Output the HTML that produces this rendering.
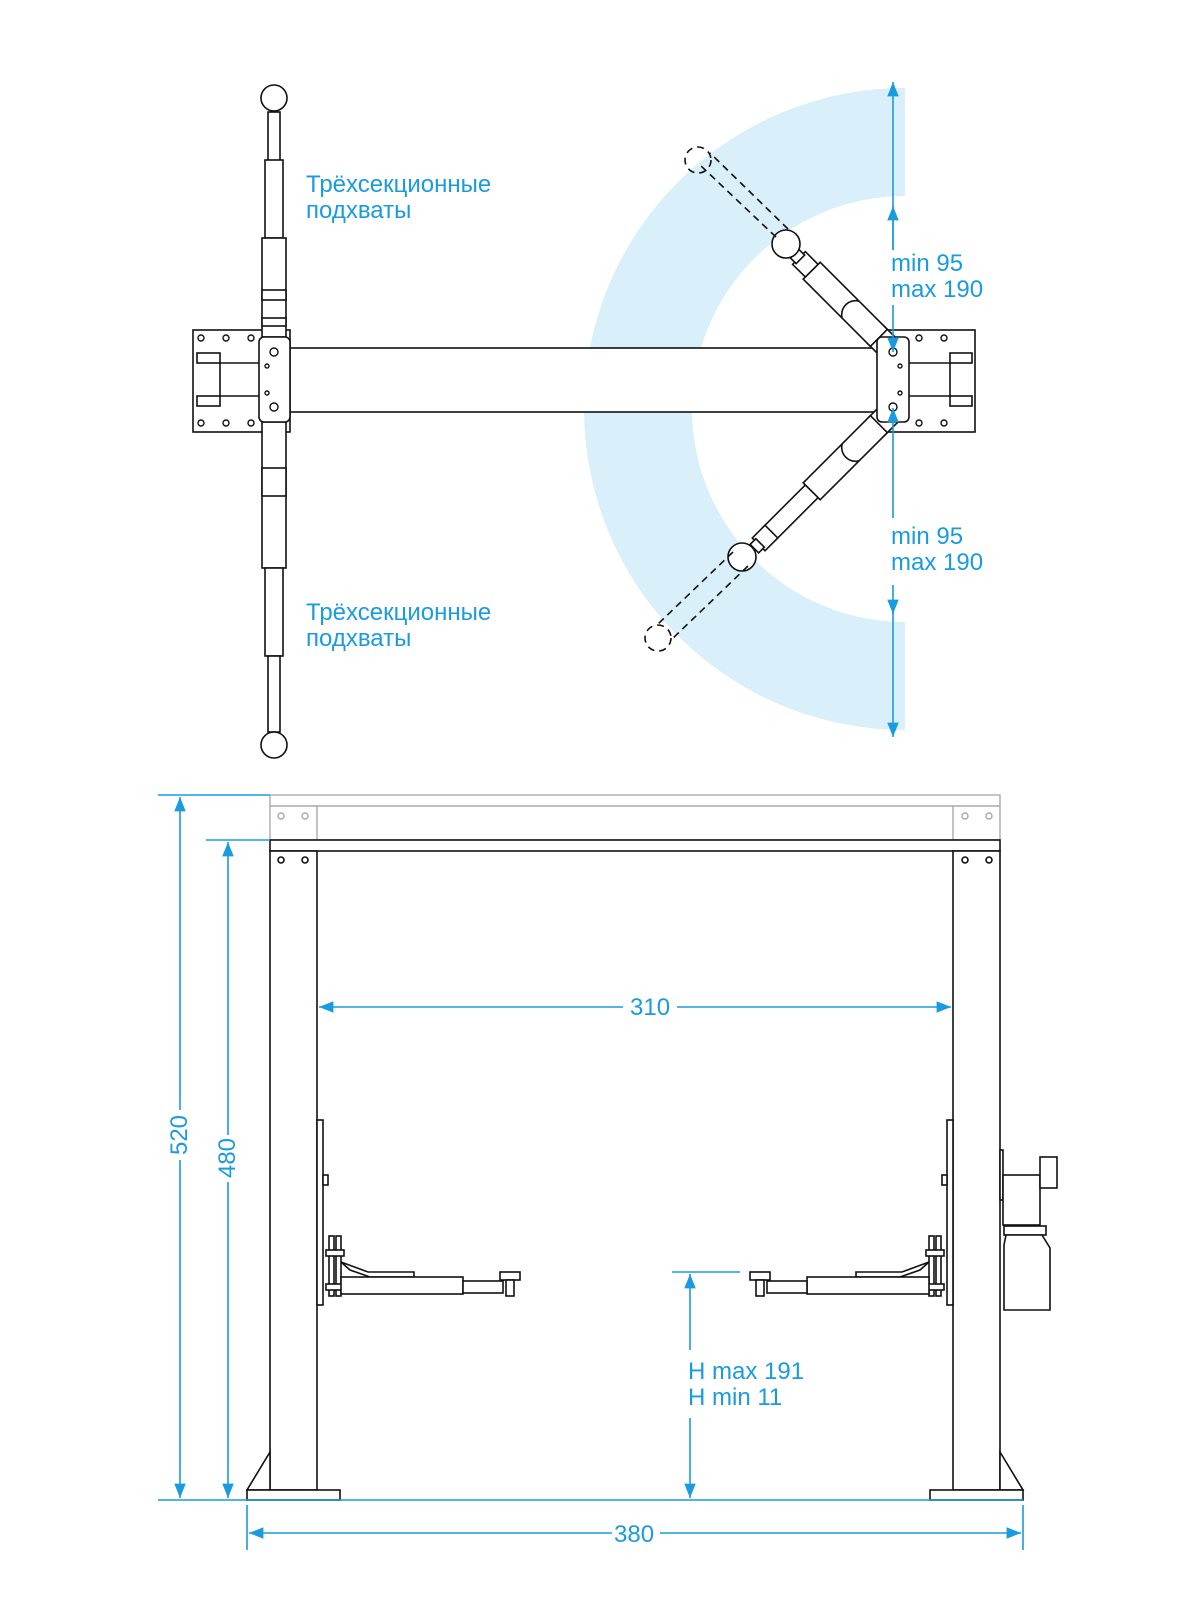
<!DOCTYPE html>
<html><head><meta charset="utf-8"><style>
body{margin:0;background:#fff;}
svg{display:block;}
text{font-family:"Liberation Sans",sans-serif;fill:#1a9be0;font-size:24px;}
</style></head><body>
<svg width="1200" height="1600" viewBox="0 0 1200 1600" xmlns="http://www.w3.org/2000/svg">
<defs>
<marker id="a" viewBox="0 0 10 10" refX="10" refY="5" markerWidth="9" markerHeight="9" orient="auto-start-reverse"><path d="M0,1 L10,5 L0,9 Z" fill="#1a9be0"/></marker>
</defs>
<path d="M905,88 A321,321 0 0 0 905,730 L905,622 A213,213 0 0 1 905,196 Z" fill="#d9eff9"/>
<g fill="#fff" stroke="#111" stroke-width="1.6">
<rect x="193" y="330" width="97" height="102"/>
<rect x="878" y="330" width="97" height="102"/>
<path d="M220,363 H259 M220,396 H259 M220,363 V396" fill="none"/>
<rect x="197" y="353" width="23" height="10"/><rect x="197" y="396" width="23" height="10"/>
<path d="M950,363 H909 M950,396 H909 M950,363 V396" fill="none"/>
<rect x="950" y="353" width="22" height="10"/><rect x="950" y="396" width="22" height="10"/>
<rect x="290" y="348" width="588" height="64"/>
<rect x="268" y="112" width="12" height="50"/>
<rect x="265" y="160" width="18" height="78"/>
<rect x="262" y="238" width="24" height="99"/>
<rect x="262" y="290" width="24" height="10"/><rect x="262" y="318" width="24" height="8"/>
<rect x="262" y="422" width="24" height="146"/>
<rect x="262" y="468" width="24" height="28"/>
<rect x="265" y="568" width="18" height="88"/>
<rect x="268" y="656" width="12" height="76"/>
<circle cx="274" cy="98" r="13"/><circle cx="274" cy="745" r="13"/>
<!-- right arms -->
<g transform="translate(893,352) rotate(225)">
<rect x="0" y="-12" width="25" height="24"/>
<rect x="20" y="-12" width="95" height="24"/>
<path d="M60,-12 A14,14 0 0 1 60,12" fill="none"/>
<rect x="115" y="-9" width="18" height="18"/>
<rect x="131" y="-6" width="8" height="12"/>
</g>
<g transform="translate(893,410) rotate(135)">
<rect x="0" y="-12" width="25" height="24"/>
<rect x="20" y="-12" width="95" height="24"/>
<path d="M60,-12 A14,14 0 0 1 60,12" fill="none"/>
<rect x="115" y="-9" width="60" height="18"/>
<rect x="172" y="-9" width="18" height="18"/>
<rect x="188" y="-6" width="8" height="12"/>
</g>
<circle cx="786" cy="244" r="14"/><circle cx="742" cy="557" r="14"/>
<rect x="259" y="337" width="31" height="85" rx="5"/>
<rect x="877" y="337" width="32" height="85" rx="5"/>
</g>
<g fill="none" stroke="#111" stroke-width="1.6" stroke-dasharray="7,5">
<line x1="776" y1="237" x2="700" y2="165"/><line x1="788" y1="229" x2="710" y2="153"/>
<line x1="733" y1="552" x2="657" y2="625"/><line x1="748" y1="566" x2="670" y2="641"/>
<circle cx="698" cy="160" r="13"/><circle cx="658" cy="638" r="13"/>
</g>
<g fill="#fff" stroke="#111" stroke-width="1.4">
<circle cx="201" cy="338" r="3"/><circle cx="226" cy="338" r="3"/><circle cx="251" cy="338" r="3"/>
<circle cx="201" cy="423" r="3"/><circle cx="226" cy="423" r="3"/><circle cx="251" cy="423" r="3"/>
<circle cx="919" cy="338" r="3"/><circle cx="944" cy="338" r="3"/><circle cx="919" cy="423" r="3"/><circle cx="944" cy="423" r="3"/>
<circle cx="274" cy="352" r="4"/><circle cx="274" cy="407" r="4"/><circle cx="267" cy="366" r="2"/><circle cx="267" cy="393" r="2"/>
<circle cx="893" cy="352" r="4"/><circle cx="893" cy="407" r="4"/><circle cx="900" cy="366" r="2"/><circle cx="900" cy="393" r="2"/>
</g>
<text x="306" y="192">Трёхсекционные</text><text x="306" y="218">подхваты</text>
<text x="306" y="620">Трёхсекционные</text><text x="306" y="646">подхваты</text>
<g stroke="#1a9be0" stroke-width="1.6" fill="none">
<line x1="893" y1="250" x2="893" y2="82" marker-end="url(#a)"/>
<line x1="893" y1="250" x2="893" y2="206" marker-end="url(#a)"/>
<line x1="893" y1="305" x2="893" y2="352" marker-end="url(#a)"/>
<line x1="893" y1="518" x2="893" y2="408" marker-end="url(#a)"/>
<line x1="893" y1="585" x2="893" y2="614" marker-end="url(#a)"/>
<line x1="893" y1="600" x2="893" y2="737" marker-end="url(#a)"/>
</g>
<text x="891" y="271">min 95</text><text x="891" y="297">max 190</text>
<text x="891" y="544">min 95</text><text x="891" y="570">max 190</text>

<g fill="none" stroke="#aaa" stroke-width="1.4">
<rect x="270" y="795" width="730" height="45"/>
<line x1="270" y1="806" x2="1000" y2="806"/>
<line x1="317" y1="806" x2="317" y2="840"/><line x1="953" y1="806" x2="953" y2="840"/>
<circle cx="281" cy="816" r="3"/><circle cx="305" cy="816" r="3"/><circle cx="965" cy="816" r="3"/><circle cx="989" cy="816" r="3"/>
</g>
<g fill="#fff" stroke="#111" stroke-width="1.6">
<rect x="270" y="840" width="730" height="11"/>
<rect x="270" y="851" width="47" height="639"/>
<rect x="953" y="851" width="47" height="639"/>
<path d="M270,1452 L247,1490 H270 Z M1000,1452 L1023,1490 H1000 Z"/>
<rect x="247" y="1490" width="93" height="10"/><rect x="930" y="1490" width="93" height="10"/>
<circle cx="281" cy="860" r="3"/><circle cx="305" cy="860" r="3"/><circle cx="965" cy="860" r="3"/><circle cx="989" cy="860" r="3"/>
<rect x="317" y="1120" width="6" height="185"/>
<rect x="323" y="1175" width="5" height="10"/>
<rect x="329" y="1236" width="5" height="60"/><rect x="336" y="1236" width="5" height="60"/>
<rect x="326" y="1250" width="18" height="6"/><rect x="326" y="1284" width="18" height="6"/>
<path d="M341,1262 L368,1272 H414 V1277 H370 L350,1270 Z"/>
<rect x="341" y="1277" width="122" height="17"/>
<rect x="463" y="1281" width="40" height="12"/>
<rect x="500" y="1272" width="20" height="8"/><rect x="506" y="1280" width="8" height="16"/>
<rect x="947" y="1120" width="6" height="185"/>
<rect x="942" y="1175" width="5" height="10"/>
<rect x="936" y="1236" width="5" height="60"/><rect x="929" y="1236" width="5" height="60"/>
<rect x="926" y="1250" width="18" height="6"/><rect x="926" y="1284" width="18" height="6"/>
<path d="M929,1262 L902,1272 H856 V1277 H900 L920,1270 Z"/>
<rect x="807" y="1277" width="122" height="17"/>
<rect x="767" y="1281" width="40" height="12"/>
<rect x="750" y="1272" width="20" height="8"/><rect x="756" y="1280" width="8" height="16"/>
<rect x="1000" y="1150" width="3" height="50"/>
<rect x="1003" y="1175" width="37" height="50"/>
<rect x="1040" y="1157" width="17" height="31"/>
<rect x="1004" y="1226" width="42" height="9"/>
<path d="M1006,1235 H1042 L1050,1248 V1310 H1004 V1245 Z"/>
</g>
<g stroke="#1a9be0" stroke-width="1.6" fill="none">
<line x1="158" y1="795" x2="270" y2="795"/>
<line x1="206" y1="840" x2="270" y2="840"/>
<line x1="158" y1="1500" x2="1023" y2="1500"/>
<line x1="180" y1="1110" x2="180" y2="797" marker-end="url(#a)"/>
<line x1="180" y1="1160" x2="180" y2="1498" marker-end="url(#a)"/>
<line x1="228" y1="1135" x2="228" y2="842" marker-end="url(#a)"/>
<line x1="228" y1="1182" x2="228" y2="1498" marker-end="url(#a)"/>
<line x1="623" y1="1007" x2="319" y2="1007" marker-end="url(#a)"/>
<line x1="677" y1="1007" x2="951" y2="1007" marker-end="url(#a)"/>
<line x1="247" y1="1505" x2="247" y2="1550"/><line x1="1023" y1="1505" x2="1023" y2="1550"/>
<line x1="612" y1="1533" x2="249" y2="1533" marker-end="url(#a)"/>
<line x1="660" y1="1533" x2="1021" y2="1533" marker-end="url(#a)"/>
<line x1="672" y1="1272" x2="740" y2="1272"/>
<line x1="690" y1="1350" x2="690" y2="1274" marker-end="url(#a)"/>
<line x1="690" y1="1418" x2="690" y2="1498" marker-end="url(#a)"/>
</g>
<text x="630" y="1015">310</text>
<text x="614" y="1542">380</text>
<text x="688" y="1379">H max 191</text><text x="688" y="1405">H min 11</text>
<text transform="translate(187 1135) rotate(-90)" text-anchor="middle">520</text>
<text transform="translate(235 1158) rotate(-90)" text-anchor="middle">480</text>
</svg>
</body></html>
